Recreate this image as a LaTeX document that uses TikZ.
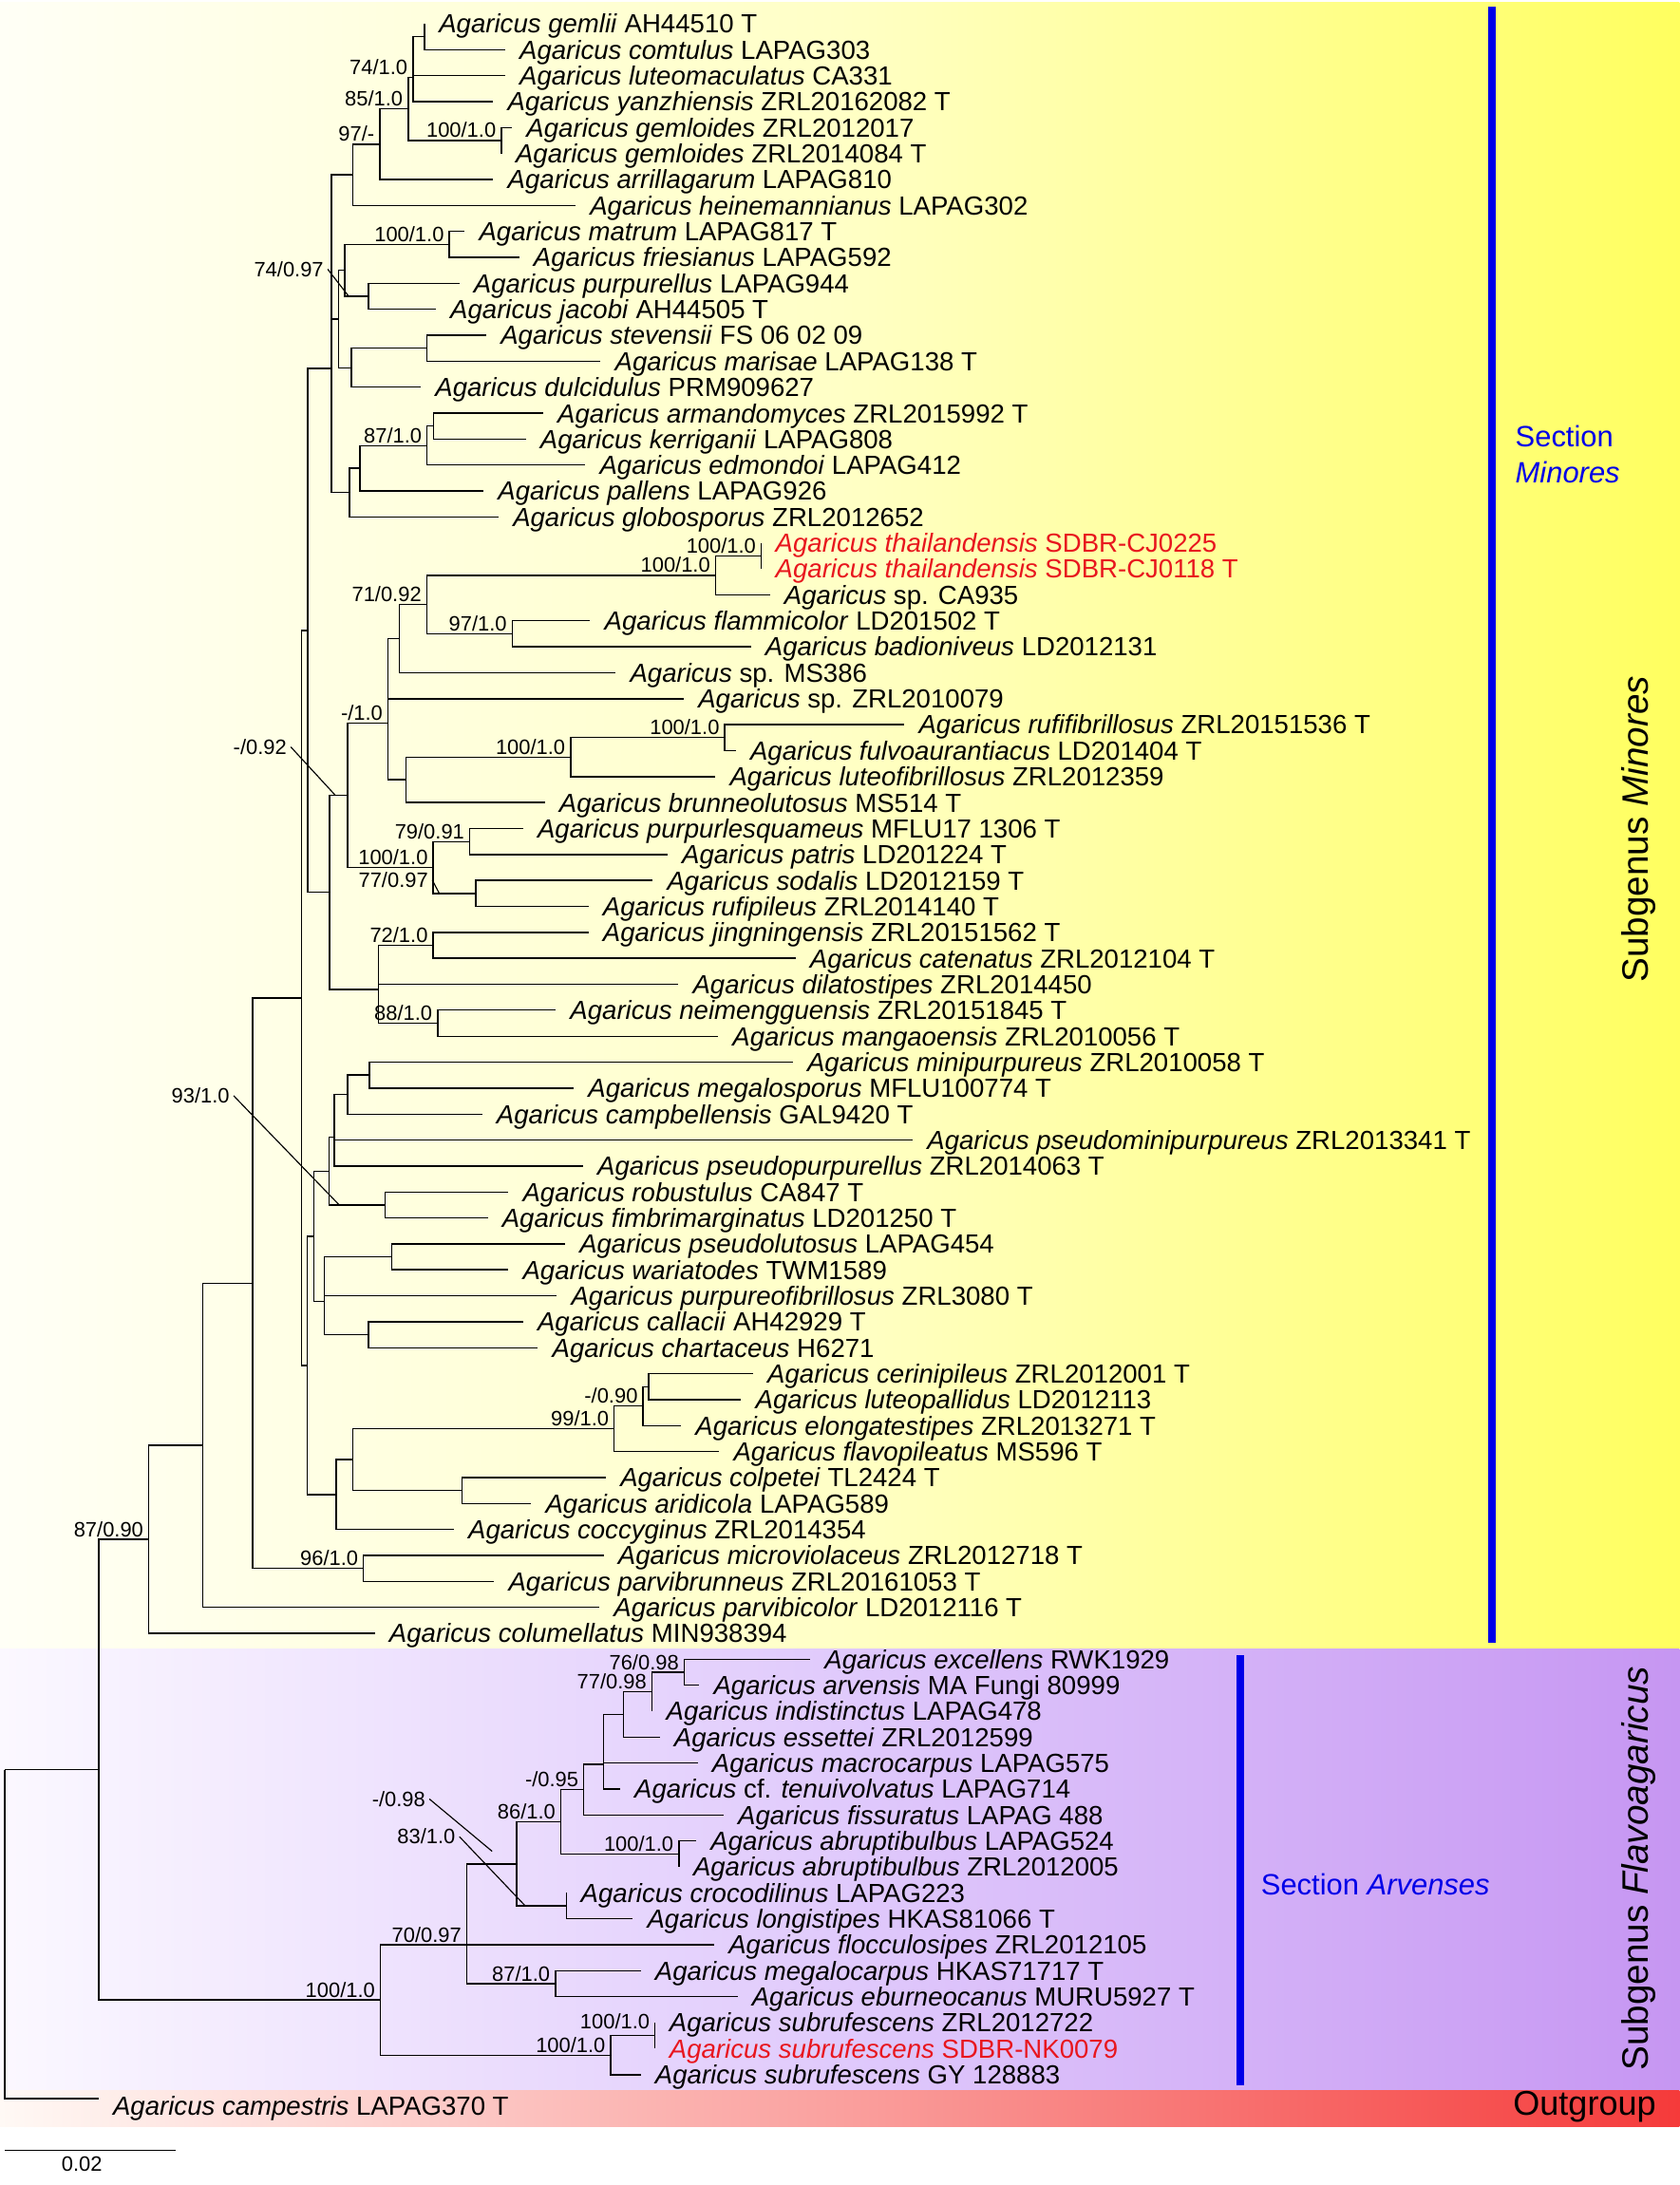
\documentclass[tikz,border=0pt]{standalone}
\usepackage{fontspec}
\setmainfont{Liberation Sans}
\definecolor{bandcream}{RGB}{255,255,246}
\definecolor{bandpale}{RGB}{255,255,198}
\definecolor{bandyellow}{RGB}{255,255,95}
\definecolor{lilacleft}{RGB}{251,248,255}
\definecolor{lilacmid}{RGB}{224,202,252}
\definecolor{lilacright}{RGB}{198,150,242}
\definecolor{redleft}{RGB}{255,249,245}
\definecolor{redmid}{RGB}{250,160,158}
\definecolor{redright}{RGB}{245,58,58}
\definecolor{newred}{RGB}{232,22,30}
\definecolor{secblue}{RGB}{0,0,232}

\begin{document}
\begin{tikzpicture}
[x=0.02cm,y=-0.02cm,
 every edge/.style={draw,line width=0.55pt,to path={|- (\tikztotarget)}},
 leaf/.style={anchor=base west,inner sep=0pt,xshift=0.2cm,yshift=-0.135cm,font=\fontsize{10.7}{12}\selectfont},
 supp/.style={anchor=base east,inner sep=0pt,xshift=-0.07cm,yshift=0.04cm,font=\fontsize{8.5}{10}\selectfont},
 leadlab/.style={anchor=east,inner sep=0pt,font=\fontsize{8.5}{10}\selectfont},
 secbar/.style={draw=secblue,line width=3.1pt},
 seclab/.style={anchor=west,inner sep=0pt,text=secblue,align=left,font=\fontsize{12}{14.5}\selectfont},
 subg/.style={rotate=90,inner sep=0pt,font=\fontsize{15}{18}\selectfont}]
\useasboundingbox (0,0) rectangle (1205,1568);
% coloured bands
\fill[left color=bandcream,right color=bandyellow,middle color=bandpale] (0,1.5) rectangle (1205,1183);
\fill[left color=lilacleft,right color=lilacright,middle color=lilacmid] (0,1183) rectangle (1205,1500.5);
\fill[left color=redleft,right color=redright,middle color=redmid] (0,1500.5) rectangle (1205,1526);

% leaf tips
\coordinate (t1) at (304.7,17.0);
\coordinate (t2) at (362.5,35.6);
\coordinate (t3) at (362.5,54.3);
\coordinate (t4) at (354,72.9);
\coordinate (t5) at (367.5,91.5);
\coordinate (t6) at (359.7,110.2);
\coordinate (t7) at (354,128.8);
\coordinate (t8) at (413,147.4);
\coordinate (t9) at (333.5,166.0);
\coordinate (t10) at (372.6,184.7);
\coordinate (t11) at (329.6,203.3);
\coordinate (t12) at (312.8,221.9);
\coordinate (t13) at (349,240.6);
\coordinate (t14) at (431,259.2);
\coordinate (t15) at (302,277.8);
\coordinate (t16) at (389.8,296.5);
\coordinate (t17) at (377.3,315.1);
\coordinate (t18) at (420,333.7);
\coordinate (t19) at (347,352.3);
\coordinate (t20) at (357.8,371.0);
\coordinate (t21) at (546.2,389.6);
\coordinate (t22) at (546.2,408.2);
\coordinate (t23) at (552.5,426.9);
\coordinate (t24) at (423.5,445.5);
\coordinate (t25) at (538.8,464.1);
\coordinate (t26) at (441.8,482.8);
\coordinate (t27) at (490.7,501.4);
\coordinate (t28) at (649,520.0);
\coordinate (t29) at (528,538.6);
\coordinate (t30) at (513.4,557.3);
\coordinate (t31) at (391,575.9);
\coordinate (t32) at (375.4,594.5);
\coordinate (t33) at (479,613.2);
\coordinate (t34) at (468.4,631.8);
\coordinate (t35) at (422.3,650.4);
\coordinate (t36) at (422.3,669.1);
\coordinate (t37) at (570.9,687.7);
\coordinate (t38) at (486.8,706.3);
\coordinate (t39) at (398.8,724.9);
\coordinate (t40) at (515.3,743.6);
\coordinate (t41) at (568.9,762.2);
\coordinate (t42) at (411.7,780.8);
\coordinate (t43) at (346,799.5);
\coordinate (t44) at (655,818.1);
\coordinate (t45) at (418.4,836.7);
\coordinate (t46) at (364.8,855.4);
\coordinate (t47) at (350,874.0);
\coordinate (t48) at (405.5,892.6);
\coordinate (t49) at (364.8,911.2);
\coordinate (t50) at (399.6,929.9);
\coordinate (t51) at (375.4,948.5);
\coordinate (t52) at (386,967.1);
\coordinate (t53) at (540.4,985.8);
\coordinate (t54) at (531.8,1004.4);
\coordinate (t55) at (488.8,1023.0);
\coordinate (t56) at (516.1,1041.7);
\coordinate (t57) at (434.8,1060.3);
\coordinate (t58) at (381.2,1078.9);
\coordinate (t59) at (325.7,1097.5);
\coordinate (t60) at (433.2,1116.2);
\coordinate (t61) at (354.6,1134.8);
\coordinate (t62) at (430.1,1153.4);
\coordinate (t63) at (269,1172.1);
\coordinate (t64) at (581.4,1190.7);
\coordinate (t65) at (501.8,1209.3);
\coordinate (t66) at (467.8,1228.0);
\coordinate (t67) at (473.4,1246.6);
\coordinate (t68) at (500.7,1265.2);
\coordinate (t69) at (445,1283.8);
\coordinate (t70) at (519.2,1302.5);
\coordinate (t71) at (499.7,1321.1);
\coordinate (t72) at (487.1,1339.7);
\coordinate (t73) at (406.5,1358.4);
\coordinate (t74) at (454.1,1377.0);
\coordinate (t75) at (512.5,1395.6);
\coordinate (t76) at (459.8,1414.3);
\coordinate (t77) at (529.2,1432.9);
\coordinate (t78) at (470,1451.5);
\coordinate (t79) at (470,1470.1);
\coordinate (t80) at (459.8,1488.8);
\coordinate (t81) at (70.8,1506);

% inner nodes, subgenus Minores
\coordinate (n1) at (304.7,26.3);
\coordinate (n2) at (296.3,55.6);
\coordinate (n3) at (359.7,100.8);
\coordinate (n4) at (292.9,78.2);
\coordinate (n5) at (272.5,103.5);
\coordinate (n6) at (253.2,125.4);
\coordinate (n7) at (322.4,175.3);
\coordinate (n8) at (264.5,212.6);
\coordinate (n9) at (247.5,194.0);
\coordinate (n10) at (306.5,249.9);
\coordinate (n11) at (252,263.9);
\coordinate (n12) at (243,229.0);
\coordinate (n13) at (311.1,305.8);
\coordinate (n14) at (306.5,319.8);
\coordinate (n15) at (258.4,336.0);
\coordinate (n16) at (250.9,353.5);
\coordinate (n17) at (237.7,264.5);
\coordinate (n18) at (546.2,398.9);
\coordinate (n19) at (513.4,412.9);
\coordinate (n20) at (367.5,454.8);
\coordinate (n21) at (306.2,433.9);
\coordinate (n22) at (286.6,458.3);
\coordinate (n23) at (520,529.3);
\coordinate (n24) at (409.4,543.3);
\coordinate (n25) at (291.3,559.6);
\coordinate (n26) at (278.4,519.0);
\coordinate (n27) at (337,603.9);
\coordinate (n28) at (341.3,641.1);
\coordinate (n29) at (310.8,622.5);
\coordinate (n30) at (249.5,570.8);
\coordinate (n31) at (310.8,678.4);
\coordinate (n32) at (314,734.3);
\coordinate (n33) at (271.7,710.0);
\coordinate (n34) at (236.5,640.4);
\coordinate (n35) at (220.9,452.5);
\coordinate (n36) at (265.2,771.5);
\coordinate (n37) at (249.3,785.5);
\coordinate (n38) at (239.8,816.0);
\coordinate (n39) at (276.3,864.7);
\coordinate (n40) at (236.2,840.4);
\coordinate (n41) at (280.9,901.9);
\coordinate (n42) at (264.5,957.8);
\coordinate (n43) at (232.7,934.0);
\coordinate (n44) at (225.3,887.2);
\coordinate (n45) at (465.3,995.1);
\coordinate (n46) at (461.4,1009.0);
\coordinate (n47) at (440.7,1025.4);
\coordinate (n48) at (331.6,1069.6);
\coordinate (n49) at (253,1047.5);
\coordinate (n50) at (241.2,1072.5);
\coordinate (n51) at (220.3,979.9);
\coordinate (n52) at (216.4,716.2);
\coordinate (n53) at (260.8,1125.5);
\coordinate (n54) at (181.2,920.9);
\coordinate (n55) at (145.4,1037.2);
\coordinate (n56) at (106.7,1104.7);
% inner nodes, subgenus Flavoagaricus
\coordinate (f1) at (490.9,1200.0);
\coordinate (f2) at (467.8,1214.0);
\coordinate (f3) at (447.3,1230.3);
\coordinate (f4) at (433.2,1266.0);
\coordinate (f5) at (418.9,1284.3);
\coordinate (f6) at (487.1,1330.4);
\coordinate (f7) at (402.4,1307.4);
\coordinate (f8) at (406.5,1367.7);
\coordinate (f9) at (370.6,1337.6);
\coordinate (f10) at (398.5,1423.6);
\coordinate (f11) at (334.9,1395.6);
\coordinate (f12) at (470,1460.8);
\coordinate (f13) at (438.2,1474.8);
\coordinate (f14) at (272.9,1435.2);
\coordinate (n57) at (70.8,1270);
\coordinate (root) at (3.5,1270);

% branches
\path (n1) edge (t1) edge (t2);
\path (n2) edge (n1) edge (t3) edge (t4);
\path (n3) edge (t5) edge (t6);
\path (n4) edge (n2) edge (n3);
\path (n5) edge (n4) edge (t7);
\path (n6) edge (n5) edge (t8);
\path (n7) edge (t9) edge (t10);
\path (n8) edge (t11) edge (t12);
\path (n9) edge (n7) edge (n8);
\path (n10) edge (t13) edge (t14);
\path (n11) edge (n10) edge (t15);
\path (n12) edge (n9) edge (n11);
\path (n13) edge (t16) edge (t17);
\path (n14) edge (n13) edge (t18);
\path (n15) edge (n14) edge (t19);
\path (n16) edge (n15) edge (t20);
\path (n17) edge (n6) edge (n12) edge (n16);
\path (n18) edge (t21) edge (t22);
\path (n19) edge (n18) edge (t23);
\path (n20) edge (t24) edge (t25);
\path (n21) edge (n19) edge (n20);
\path (n22) edge (n21) edge (t26);
\path (n23) edge (t28) edge (t29);
\path (n24) edge (n23) edge (t30);
\path (n25) edge (n24) edge (t31);
\path (n26) edge (n22) edge (t27) edge (n25);
\path (n27) edge (t32) edge (t33);
\path (n28) edge (t34) edge (t35);
\path (n29) edge (n27) edge (n28);
\path (n30) edge (n26) edge (n29);
\path (n31) edge (t36) edge (t37);
\path (n32) edge (t39) edge (t40);
\path (n33) edge (n31) edge (t38) edge (n32);
\path (n34) edge (n30) edge (n33);
\path (n35) edge (n17) edge (n34);
\path (n36) edge (t41) edge (t42);
\path (n37) edge (n36) edge (t43);
\path (n38) edge (n37) edge (t44) edge (t45);
\path (n39) edge (t46) edge (t47);
\path (n40) edge (n38) edge (n39);
\path (n41) edge (t48) edge (t49);
\path (n42) edge (t51) edge (t52);
\path (n43) edge (n41) edge (t50) edge (n42);
\path (n44) edge (n40) edge (n43);
\path (n45) edge (t53) edge (t54);
\path (n46) edge (n45) edge (t55);
\path (n47) edge (n46) edge (t56);
\path (n48) edge (t57) edge (t58);
\path (n49) edge (n47) edge (n48);
\path (n50) edge (n49) edge (t59);
\path (n51) edge (n44) edge (n50);
\path (n52) edge (n35) edge (n51);
\path (n53) edge (t60) edge (t61);
\path (n54) edge (n52) edge (n53);
\path (n55) edge (n54) edge (t62);
\path (n56) edge (n55) edge (t63);
\path (f1) edge (t64) edge (t65);
\path (f2) edge (f1) edge (t66);
\path (f3) edge (f2) edge (t67);
\path (f4) edge (f3) edge (t68) edge (t69);
\path (f5) edge (f4) edge (t70);
\path (f6) edge (t71) edge (t72);
\path (f7) edge (f5) edge (f6);
\path (f8) edge (t73) edge (t74);
\path (f9) edge (f7) edge (f8);
\path (f10) edge (t76) edge (t77);
\path (f11) edge (f9) edge (t75) edge (f10);
\path (f12) edge (t78) edge (t79);
\path (f13) edge (f12) edge (t80);
\path (f14) edge (f11) edge (f13);
\path (n57) edge (n56) edge (f14);
\path (root) edge (n57) edge (t81);

% taxa
\node[leaf] (l1) at (t1) {\textit{Agaricus gemlii} AH44510 T};
\node[leaf] (l2) at (t2) {\textit{Agaricus comtulus} LAPAG303};
\node[leaf] (l3) at (t3) {\textit{Agaricus luteomaculatus} CA331};
\node[leaf] (l4) at (t4) {\textit{Agaricus yanzhiensis} ZRL20162082 T};
\node[leaf] (l5) at (t5) {\textit{Agaricus gemloides} ZRL2012017};
\node[leaf] (l6) at (t6) {\textit{Agaricus gemloides} ZRL2014084 T};
\node[leaf] (l7) at (t7) {\textit{Agaricus arrillagarum} LAPAG810};
\node[leaf] (l8) at (t8) {\textit{Agaricus heinemannianus} LAPAG302};
\node[leaf] (l9) at (t9) {\textit{Agaricus matrum} LAPAG817 T};
\node[leaf] (l10) at (t10) {\textit{Agaricus friesianus} LAPAG592};
\node[leaf] (l11) at (t11) {\textit{Agaricus purpurellus} LAPAG944};
\node[leaf] (l12) at (t12) {\textit{Agaricus jacobi} AH44505 T};
\node[leaf] (l13) at (t13) {\textit{Agaricus stevensii} FS 06 02 09};
\node[leaf] (l14) at (t14) {\textit{Agaricus marisae} LAPAG138 T};
\node[leaf] (l15) at (t15) {\textit{Agaricus dulcidulus} PRM909627};
\node[leaf] (l16) at (t16) {\textit{Agaricus armandomyces} ZRL2015992 T};
\node[leaf] (l17) at (t17) {\textit{Agaricus kerriganii} LAPAG808};
\node[leaf] (l18) at (t18) {\textit{Agaricus edmondoi} LAPAG412};
\node[leaf] (l19) at (t19) {\textit{Agaricus pallens} LAPAG926};
\node[leaf] (l20) at (t20) {\textit{Agaricus globosporus} ZRL2012652};
\node[leaf,text=newred] (l21) at (t21) {\textit{Agaricus thailandensis} SDBR-CJ0225};
\node[leaf,text=newred] (l22) at (t22) {\textit{Agaricus thailandensis} SDBR-CJ0118 T};
\node[leaf] (l23) at (t23) {\textit{Agaricus} sp. CA935};
\node[leaf] (l24) at (t24) {\textit{Agaricus flammicolor} LD201502 T};
\node[leaf] (l25) at (t25) {\textit{Agaricus badioniveus} LD2012131};
\node[leaf] (l26) at (t26) {\textit{Agaricus} sp. MS386};
\node[leaf] (l27) at (t27) {\textit{Agaricus} sp. ZRL2010079};
\node[leaf] (l28) at (t28) {\textit{Agaricus rufifibrillosus} ZRL20151536 T};
\node[leaf] (l29) at (t29) {\textit{Agaricus fulvoaurantiacus} LD201404 T};
\node[leaf] (l30) at (t30) {\textit{Agaricus luteofibrillosus} ZRL2012359};
\node[leaf] (l31) at (t31) {\textit{Agaricus brunneolutosus} MS514 T};
\node[leaf] (l32) at (t32) {\textit{Agaricus purpurlesquameus} MFLU17 1306 T};
\node[leaf] (l33) at (t33) {\textit{Agaricus patris} LD201224 T};
\node[leaf] (l34) at (t34) {\textit{Agaricus sodalis} LD2012159 T};
\node[leaf] (l35) at (t35) {\textit{Agaricus rufipileus} ZRL2014140 T};
\node[leaf] (l36) at (t36) {\textit{Agaricus jingningensis} ZRL20151562 T};
\node[leaf] (l37) at (t37) {\textit{Agaricus catenatus} ZRL2012104 T};
\node[leaf] (l38) at (t38) {\textit{Agaricus dilatostipes} ZRL2014450};
\node[leaf] (l39) at (t39) {\textit{Agaricus neimengguensis} ZRL20151845 T};
\node[leaf] (l40) at (t40) {\textit{Agaricus mangaoensis} ZRL2010056 T};
\node[leaf] (l41) at (t41) {\textit{Agaricus minipurpureus} ZRL2010058 T};
\node[leaf] (l42) at (t42) {\textit{Agaricus megalosporus} MFLU100774 T};
\node[leaf] (l43) at (t43) {\textit{Agaricus campbellensis} GAL9420 T};
\node[leaf] (l44) at (t44) {\textit{Agaricus pseudominipurpureus} ZRL2013341 T};
\node[leaf] (l45) at (t45) {\textit{Agaricus pseudopurpurellus} ZRL2014063 T};
\node[leaf] (l46) at (t46) {\textit{Agaricus robustulus} CA847 T};
\node[leaf] (l47) at (t47) {\textit{Agaricus fimbrimarginatus} LD201250 T};
\node[leaf] (l48) at (t48) {\textit{Agaricus pseudolutosus} LAPAG454};
\node[leaf] (l49) at (t49) {\textit{Agaricus wariatodes} TWM1589};
\node[leaf] (l50) at (t50) {\textit{Agaricus purpureofibrillosus} ZRL3080 T};
\node[leaf] (l51) at (t51) {\textit{Agaricus callacii} AH42929 T};
\node[leaf] (l52) at (t52) {\textit{Agaricus chartaceus} H6271};
\node[leaf] (l53) at (t53) {\textit{Agaricus cerinipileus} ZRL2012001 T};
\node[leaf] (l54) at (t54) {\textit{Agaricus luteopallidus} LD2012113};
\node[leaf] (l55) at (t55) {\textit{Agaricus elongatestipes} ZRL2013271 T};
\node[leaf] (l56) at (t56) {\textit{Agaricus flavopileatus} MS596 T};
\node[leaf] (l57) at (t57) {\textit{Agaricus colpetei} TL2424 T};
\node[leaf] (l58) at (t58) {\textit{Agaricus aridicola} LAPAG589};
\node[leaf] (l59) at (t59) {\textit{Agaricus coccyginus} ZRL2014354};
\node[leaf] (l60) at (t60) {\textit{Agaricus microviolaceus} ZRL2012718 T};
\node[leaf] (l61) at (t61) {\textit{Agaricus parvibrunneus} ZRL20161053 T};
\node[leaf] (l62) at (t62) {\textit{Agaricus parvibicolor} LD2012116 T};
\node[leaf] (l63) at (t63) {\textit{Agaricus columellatus} MIN938394};
\node[leaf] (l64) at (t64) {\textit{Agaricus excellens} RWK1929};
\node[leaf] (l65) at (t65) {\textit{Agaricus arvensis} MA Fungi 80999};
\node[leaf] (l66) at (t66) {\textit{Agaricus indistinctus} LAPAG478};
\node[leaf] (l67) at (t67) {\textit{Agaricus essettei} ZRL2012599};
\node[leaf] (l68) at (t68) {\textit{Agaricus macrocarpus} LAPAG575};
\node[leaf] (l69) at (t69) {\textit{Agaricus} cf. \textit{tenuivolvatus} LAPAG714};
\node[leaf] (l70) at (t70) {\textit{Agaricus fissuratus} LAPAG 488};
\node[leaf] (l71) at (t71) {\textit{Agaricus abruptibulbus} LAPAG524};
\node[leaf] (l72) at (t72) {\textit{Agaricus abruptibulbus} ZRL2012005};
\node[leaf] (l73) at (t73) {\textit{Agaricus crocodilinus} LAPAG223};
\node[leaf] (l74) at (t74) {\textit{Agaricus longistipes} HKAS81066 T};
\node[leaf] (l75) at (t75) {\textit{Agaricus flocculosipes} ZRL2012105};
\node[leaf] (l76) at (t76) {\textit{Agaricus megalocarpus} HKAS71717 T};
\node[leaf] (l77) at (t77) {\textit{Agaricus eburneocanus} MURU5927 T};
\node[leaf] (l78) at (t78) {\textit{Agaricus subrufescens} ZRL2012722};
\node[leaf,text=newred] (l79) at (t79) {\textit{Agaricus subrufescens} SDBR-NK0079};
\node[leaf] (l80) at (t80) {\textit{Agaricus subrufescens} GY 128883};
\node[leaf,yshift=-0.1cm] (l81) at (t81) {\textit{Agaricus campestris} LAPAG370 T};

% support values
\node[supp] (s2) at (n2) {74/1.0};
\node[supp] (s3) at (n3) {100/1.0};
\node[supp] (s4) at (n4) {85/1.0};
\node[supp] (s5) at (n5) {97/-};
\node[supp] (s7) at (n7) {100/1.0};
\node[supp] (s14) at (n14) {87/1.0};
\node[supp] (s18) at (n18) {100/1.0};
\node[supp] (s19) at (n19) {100/1.0};
\node[supp] (s20) at (n20) {97/1.0};
\node[supp] (s21) at (n21) {71/0.92};
\node[supp] (s23) at (n23) {100/1.0};
\node[supp] (s24) at (n24) {100/1.0};
\node[supp] (s26) at (n26) {-/1.0};
\node[supp] (s27) at (n27) {79/0.91};
\node[supp] (s29) at (n29) {100/1.0};
\node[supp] (s31) at (n31) {72/1.0};
\node[supp] (s32) at (n32) {88/1.0};
\node[supp] (s46) at (n46) {-/0.90};
\node[supp] (s47) at (n47) {99/1.0};
\node[supp] (s53) at (n53) {96/1.0};
\node[supp] (s56) at (n56) {87/0.90};
\node[supp] (sf1) at (f1) {76/0.98};
\node[supp] (sf2) at (f2) {77/0.98};
\node[supp] (sf5) at (f5) {-/0.95};
\node[supp] (sf6) at (f6) {100/1.0};
\node[supp] (sf7) at (f7) {86/1.0};
\node[supp] (sf10) at (f10) {87/1.0};
\node[supp] (sf11) at (f11) {70/0.97};
\node[supp,yshift=0.06cm] (sf12) at (f12) {100/1.0};
\node[supp] (sf13) at (f13) {100/1.0};
\node[supp] (sf14) at (f14) {100/1.0};
% support values with a pointer
\node[leadlab] (s8) at (232.5,193.2) {74/0.97};
\node[leadlab] (s30) at (206,536) {-/0.92};
\node[leadlab] (s28) at (307.5,631.5) {77/0.97};
\node[leadlab] (s39) at (165,786.3) {93/1.0};
\node[leadlab] (sf9) at (305.5,1291) {-/0.98};
\node[leadlab] (sf8) at (327,1318) {83/1.0};
\coordinate (k8) at (250.2,212.6);
\coordinate (k30) at (240.7,570.8);
\coordinate (k28) at (315.2,641.1);
\coordinate (k39) at (243.4,864.7);
\coordinate (kf9) at (353.1,1328.5);
\coordinate (kf8) at (376.9,1367.7);
\draw[line width=0.45pt] ([xshift=1.5pt]s8.east) -- (k8);
\draw[line width=0.45pt] ([xshift=1.5pt]s30.east) -- (k30);
\draw[line width=0.45pt] ([xshift=1.5pt]s28.east) -- (k28);
\draw[line width=0.45pt] ([xshift=1.5pt]s39.east) -- (k39);
\draw[line width=0.45pt] ([xshift=1.5pt]sf9.east) -- (kf9);
\draw[line width=0.45pt] ([xshift=1.5pt]sf8.east) -- (kf8);

% groups
\coordinate (mintop) at (1070.5,5);
\coordinate (minbot) at (1070.5,1179);
\coordinate (arvtop) at (889.9,1188);
\coordinate (arvbot) at (889.9,1496.5);
\draw[secbar] (mintop) -- (minbot);
\draw[secbar] (arvtop) -- (arvbot);
\node[seclab] (secmin) at (1087,326) {Section\\\textit{Minores}};
\node[seclab] (secarv) at (904.5,1352.5) {Section \textit{Arvenses}};
\node[subg] (submin) at (1176,595) {Subgenus \textit{Minores}};
\node[subg] (subflavo) at (1176,1341) {Subgenus \textit{Flavoagaricus}};
\node[inner sep=0pt,font=\fontsize{14}{16}\selectfont] (outg) at (1137,1512) {Outgroup};

% scale bar
\coordinate (sb1) at (3.5,1543);
\coordinate (sb2) at (126,1543);
\draw[line width=0.55pt] (sb1) -- (sb2);
\node[inner sep=0pt,font=\fontsize{8.5}{10}\selectfont] (sblab) at (58.7,1553) {0.02};
\end{tikzpicture}
\end{document}
